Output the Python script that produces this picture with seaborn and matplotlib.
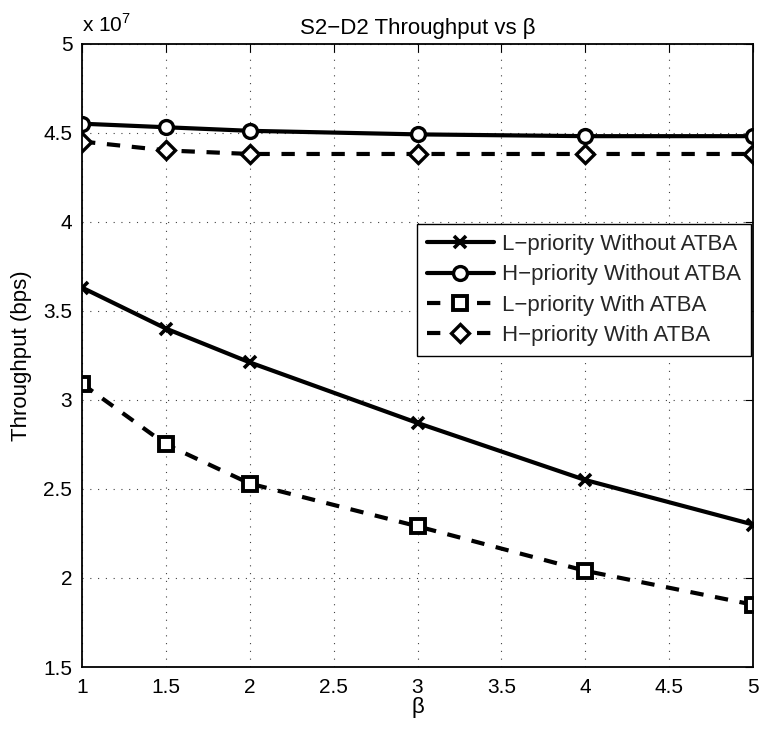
import matplotlib
matplotlib.use("Agg")
import matplotlib.pyplot as plt
from matplotlib.ticker import FuncFormatter, MultipleLocator
import seaborn as sns
import pandas as pd

beta = [1, 1.5, 2, 3, 4, 5]
l_without = [3.63e7, 3.40e7, 3.21e7, 2.87e7, 2.55e7, 2.30e7]
h_without = [4.55e7, 4.53e7, 4.51e7, 4.49e7, 4.48e7, 4.48e7]
l_with = [3.09e7, 2.75e7, 2.53e7, 2.29e7, 2.04e7, 1.85e7]
h_with = [4.45e7, 4.40e7, 4.38e7, 4.38e7, 4.38e7, 4.38e7]

series_names = ["L\u2212priority Without ATBA", "H\u2212priority Without ATBA",
                "L\u2212priority With ATBA", "H\u2212priority With ATBA"]
series_values = [l_without, h_without, l_with, h_with]

sns.set_theme(style="white")
plt.rcParams["font.family"] = ["Liberation Sans", "DejaVu Sans"]
plt.rcParams["mathtext.fontset"] = "custom"
plt.rcParams["mathtext.rm"] = "Liberation Sans"

fig = plt.figure(figsize=(7.63, 7.29), dpi=100)
ax = fig.add_axes([0.1075, 0.085, 0.8794, 0.8553])

dashed = (0, (3.2, 2.8))
styles = [
    dict(marker="x", ls="-", mfc="black", ms=8, mew=2.6),
    dict(marker="o", ls="-", mfc="white", ms=10, mew=2.4),
    dict(marker="s", ls=dashed, mfc="white", ms=9.5, mew=2.8),
    dict(marker="D", ls=dashed, mfc="white", ms=9.5, mew=2.4),
]

for name, vals, st in zip(series_names, series_values, styles):
    df = pd.DataFrame({"beta": beta, "throughput": vals})
    sns.lineplot(data=df, x="beta", y="throughput", ax=ax, color="black",
                 linewidth=3.0, linestyle=st["ls"], marker=st["marker"],
                 markersize=st["ms"], markerfacecolor=st["mfc"],
                 markeredgecolor="black", markeredgewidth=st["mew"],
                 label=name, errorbar=None)

ax.set_xlim(1, 5)
ax.set_ylim(1.5e7, 5e7)
ax.xaxis.set_major_locator(MultipleLocator(0.5))
ax.yaxis.set_major_locator(MultipleLocator(0.5e7))
ax.xaxis.set_major_formatter(FuncFormatter(lambda v, p: f"{v:g}"))
ax.yaxis.set_major_formatter(FuncFormatter(lambda v, p: f"{v / 1e7:g}"))

ax.grid(True, color="black", linestyle=(0, (1, 6)), linewidth=0.8, alpha=0.75)
ax.tick_params(axis="both", direction="in", length=6, width=0.8, top=True,
               right=True, labelsize=15, colors="black")
ax.tick_params(axis="x", pad=8)
ax.tick_params(axis="y", pad=7)
for sp in ax.spines.values():
    sp.set_color("black")
    sp.set_linewidth(1.3)

ax.set_xlabel("\u03b2", fontsize=16, labelpad=0, color="black")
ax.set_ylabel("Throughput (bps)", fontsize=16, labelpad=8, color="black")
ax.set_title("S2\u2212D2 Throughput vs \u03b2", fontsize=16, pad=7, color="black")
ax.text(0.0, 1.012, "x 10$^7$", transform=ax.transAxes, fontsize=15,
        ha="left", va="bottom", color="black")

leg = ax.legend(loc="upper left", bbox_to_anchor=(0.499, 0.7105), fontsize=16,
                frameon=True, fancybox=False, edgecolor="black",
                handlelength=3.0, borderpad=0.45, labelspacing=0.42,
                handletextpad=0.4, borderaxespad=0)
leg.get_frame().set_linewidth(1.0)
leg.get_frame().set_alpha(1.0)

fig.savefig("out.png", dpi=100)
